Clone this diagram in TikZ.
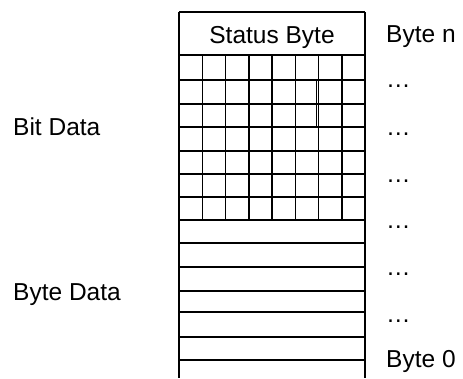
\documentclass[tikz,border=0pt]{standalone}
\usepackage{fontspec}
\setmainfont{Liberation Sans}
\begin{document}
\begin{tikzpicture}[x=1pt,y=-1pt,
  gridline/.style={line width=1.5pt,black},
  lbl/.style={font=\fontsize{24.5}{28}\selectfont,inner sep=0pt,anchor=base west}]
\useasboundingbox[fill=white] (0,0) rectangle (463,378);
% outer sides
\draw[gridline] (179,12) -- (365,12);
\draw[gridline] (179,12) -- (179,378);
\draw[gridline] (365,12) -- (365,378);
% horizontal lines
\foreach \yy in {55,80,104,127,151,174,197,220,243,267,291,312,337,360}
  \draw[gridline] (179,\yy) -- (365,\yy);
% vertical bit lines
\foreach \k in {1,...,7}
  \draw[gridline] ({179+\k*23.25},55) -- ({179+\k*23.25},220);
% small extra stroke
\draw[line width=1pt] (316.8,80) -- (316.8,127);
% labels
\node[font=\fontsize{24.5}{28}\selectfont,inner sep=0pt,anchor=base] (status) at (272,43) {Status Byte};
\node[lbl] (byten) at (386,42) {Byte n};
\node[lbl] (d1) at (386,87) {…};
\node[lbl] (d2) at (386,135) {…};
\node[lbl] (d3) at (386,182) {…};
\node[lbl] (d4) at (386,228) {…};
\node[lbl] (d5) at (386,275) {…};
\node[lbl] (d6) at (386,322) {…};
\node[lbl] (byte0) at (386,367) {Byte 0};
\node[lbl] (bitdata) at (13,135) {Bit Data};
\node[lbl] (bytedata) at (13,300) {Byte Data};
\end{tikzpicture}
\end{document}
